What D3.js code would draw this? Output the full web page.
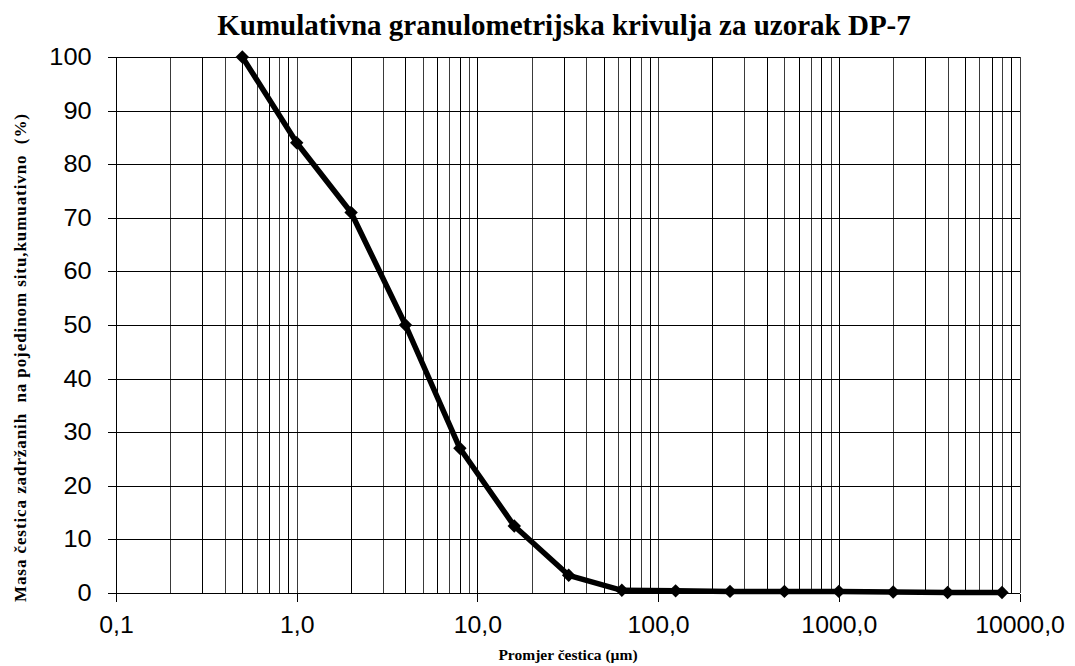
<!DOCTYPE html>
<html>
<head>
<meta charset="utf-8">
<script src="https://cdn.jsdelivr.net/npm/d3@7"></script>
<style>
  html, body { margin: 0; padding: 0; background: #fff; }
  svg { display: block; }
</style>
</head>
<body>
<svg id="chart" width="1075" height="666"></svg>
<script>
// Sieve / particle sizes (µm) and cumulative retained mass (%)
const sizes = [0.5, 1, 2, 4, 8, 16, 32, 63, 125, 250, 500, 1000, 2000, 4000, 8000];
const cumulative = [100, 84, 71, 50, 27, 12.5, 3.3, 0.5, 0.4, 0.3, 0.3, 0.3, 0.2, 0.1, 0.1];

// Axis ticks
const xTickValues = [0.1, 1, 10, 100, 1000, 10000];
const xTickLabels = ["0,1", "1,0", "10,0", "100,0", "1000,0", "10000,0"];
const yTickValues = [0, 10, 20, 30, 40, 50, 60, 70, 80, 90, 100];

const titleText = "Kumulativna granulometrijska krivulja za uzorak DP-7";
const xLabelText = "Promjer čestica (µm)";
const yLabelText = "Masa čestica zadržanih  na pojedinom situ,kumuativno  (%)";

const margin = { left: 116, right: 1019.5, top: 57, bottom: 593 };

const svg = d3.select("#chart");

const x = d3.scaleLog().domain([0.1, 10000]).range([margin.left, margin.right]);
const y = d3.scaleLinear().domain([0, 100]).range([margin.bottom, margin.top]);

// Minor log grid: 1..9 in each decade
const gridX = [];
for (let e = -1; e < 4; e++) {
  for (let m = 1; m <= 9; m++) gridX.push(m * Math.pow(10, e));
}
gridX.push(10000);

const grid = svg.append("g").attr("shape-rendering", "crispEdges");
grid.selectAll("line.vx").data(gridX).join("line")
  .attr("x1", d => Math.round(x(d)) + 0.5).attr("x2", d => Math.round(x(d)) + 0.5)
  .attr("y1", margin.top).attr("y2", margin.bottom)
  .attr("stroke", (d, i) => (i % 2 ? "#3a3a3a" : "#000")).attr("stroke-width", 1);
grid.selectAll("line.hy").data(yTickValues).join("line")
  .attr("x1", margin.left).attr("x2", margin.right)
  .attr("y1", d => Math.round(y(d)) + 0.5).attr("y2", d => Math.round(y(d)) + 0.5)
  .attr("stroke", "#000").attr("stroke-width", 1);

const tickFont = "Liberation Sans, Arial, sans-serif";

// Y axis
const yAxis = d3.axisLeft(y).tickValues(yTickValues).tickSize(9).tickPadding(14)
  .tickFormat(d3.format("d"));
const gy = svg.append("g")
  .attr("transform", `translate(${Math.round(margin.left) + 0.5},0)`)
  .call(yAxis);
gy.select(".domain").remove();
gy.selectAll(".tick line").attr("stroke", "#000").attr("shape-rendering", "crispEdges");
gy.selectAll(".tick text")
  .attr("font-family", tickFont)
  .attr("font-size", 23.5).attr("fill", "#000")
  .attr("transform", "scale(1.08,1)");

// X axis
const xAxis = d3.axisBottom(x).tickValues(xTickValues).tickSize(8).tickPadding(15)
  .tickFormat((d, i) => xTickLabels[i]);
const gx = svg.append("g")
  .attr("transform", `translate(0,${Math.round(margin.bottom) + 0.5})`)
  .call(xAxis);
gx.select(".domain").remove();
gx.selectAll(".tick line").attr("stroke", "#000").attr("shape-rendering", "crispEdges");
gx.selectAll(".tick text")
  .attr("font-family", tickFont)
  .attr("font-size", 23).attr("fill", "#000")
  .attr("transform", "scale(1.08,1)");

// Curve
const data = sizes.map((s, i) => ({ s, v: cumulative[i] }));
svg.append("path")
  .datum(data)
  .attr("fill", "none")
  .attr("stroke", "#000")
  .attr("stroke-width", 5.5)
  .attr("stroke-linejoin", "round")
  .attr("d", d3.line().x(d => x(d.s)).y(d => y(d.v)));

// Diamond markers
const diamond = d3.symbol().type(d3.symbolDiamond2).size(115);
svg.selectAll("path.pt").data(data).join("path")
  .attr("class", "pt")
  .attr("transform", d => `translate(${x(d.s)},${y(d.v)})`)
  .attr("d", diamond)
  .attr("fill", "#000");

const serif = "Liberation Serif, Times New Roman, serif";

// Title
svg.append("text")
  .attr("x", 564).attr("y", 35)
  .attr("text-anchor", "middle")
  .attr("font-family", serif)
  .attr("font-weight", "bold").attr("font-size", 29)
  .text(titleText);

// X label
svg.append("text")
  .attr("x", 568).attr("y", 660)
  .attr("text-anchor", "middle")
  .attr("font-family", serif)
  .attr("font-weight", "bold").attr("font-size", 15.5)
  .text(xLabelText);

// Y label
svg.append("text")
  .attr("transform", "translate(26,358) rotate(-90)")
  .attr("text-anchor", "middle")
  .attr("font-family", serif)
  .attr("font-weight", "bold").attr("font-size", 17)
  .attr("textLength", 488).attr("lengthAdjust", "spacing")
  .style("white-space", "pre")
  .text(yLabelText);
</script>
</body>
</html>
